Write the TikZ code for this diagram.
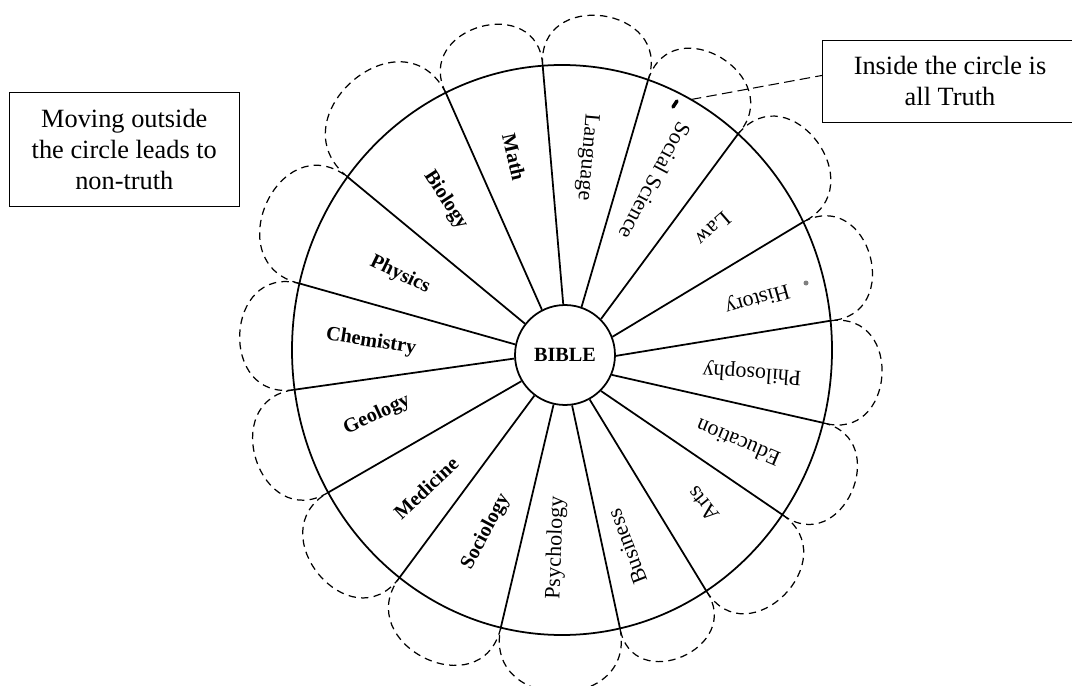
\documentclass[tikz,border=0pt]{standalone}
\usepackage{fontspec}
\setmainfont{Liberation Serif}
\usetikzlibrary{calc}
\begin{document}
\begin{tikzpicture}[x=0.02cm,y=-0.02cm,
  wheel/.style={line width=1pt},
  petal/.style={dash pattern=on 4.2pt off 3pt, line width=0.7pt},
  lab/.style={font=\fontsize{12.5}{14}\selectfont},
  blab/.style={font=\fontsize{11.5}{13}\selectfont\bfseries},
  note/.style={draw, line width=0.6pt, font=\fontsize{15}{17.6}\selectfont, align=center, inner sep=0pt}]
\useasboundingbox (0,0) rectangle (1072,686);
% outer rim
\draw[wheel] (562,350) ellipse [x radius=270, y radius=285];
% centre
\node[draw, wheel, circle, minimum size=2cm, inner sep=0pt, fill=white,
  font=\fontsize{11.5}{13}\selectfont\bfseries] (bible) at (565,355) {BIBLE};
% dividers
\foreach \a/\b [count=\k] in {115.5/117, 94.1/92.4, 71.4/71.6, 49.3/45, 26.7/21.6,
   5.9/-1.1, -14.8/-23.6, -35.3/-45, -57.7/-61.5, -77.6/-82, -103.1/-103,
   -127/-127, -150/-149.6, -172/-176.5, 166.5/168.6, 142.6/142.6}{
  \coordinate (o\k) at ({562+270*cos(\a)},{350-285*sin(\a)});
  \draw[wheel] (bible.\b) -- (o\k);
}
% petals
\foreach \a/\b in {115.5/94.1, 94.1/71.4, 71.4/49.3, 49.3/26.7, 26.7/5.9,
   5.9/-14.8, -14.8/-35.3, -35.3/-57.7, -57.7/-77.6, -77.6/-103.1,
   -103.1/-127, -127/-150, -150/-172, -172/-193.5, -193.5/-217.4, -217.4/-244.5}{
  \pgfmathsetmacro{\xa}{562+270*cos(\a)}
  \pgfmathsetmacro{\ya}{350-285*sin(\a)}
  \pgfmathsetmacro{\xb}{562+270*cos(\b)}
  \pgfmathsetmacro{\yb}{350-285*sin(\b)}
  \pgfmathsetmacro{\m}{(\a+\b)/2}
  \pgfmathsetmacro{\h}{veclen(\xa-\xb,\ya-\yb)}
  \pgfmathsetmacro{\nx}{cos(\m)}
  \pgfmathsetmacro{\ny}{-sin(\m)}
  \pgfmathsetmacro{\tx}{(\xb-\xa)/\h}
  \pgfmathsetmacro{\ty}{(\yb-\ya)/\h}
  \draw[petal] (\xa,\ya) .. controls ({\xa+0.72*\h*\nx-0.15*\h*\tx},{\ya+0.72*\h*\ny-0.15*\h*\ty})
     and ({\xb+0.72*\h*\nx+0.15*\h*\tx},{\yb+0.72*\h*\ny+0.15*\h*\ty}) .. (\xb,\yb);
}
% labels
\node[blab, rotate=-57] (biology) at (445.7,200.3) {Biology};
\node[blab, rotate=-77] (math) at (514,157) {Math};
\node[lab, rotate=-95] (language) at (587,157) {Language};
\node[lab, rotate=-118] (socsci) at (655,181) {Social Science};
\node[lab, rotate=-139] (law) at (713,229) {Law};
\node[lab, rotate=-164] (history) at (757,298) {History};
\node[lab, rotate=176] (philosophy) at (752,373) {Philosophy};
\node[lab, rotate=157] (education) at (738,443) {Education};
\node[lab, rotate=129] (arts) at (703,504) {Arts};
\node[lab, rotate=111] (business) at (627,547) {Business};
\node[lab, rotate=88] (psychology) at (556,548) {Psychology};
\node[blab, rotate=62] (sociology) at (486,532) {Sociology};
\node[blab, rotate=43] (medicine) at (426,488) {Medicine};
\node[blab, rotate=25] (geology) at (377,415) {Geology};
\node[blab, rotate=-9] (chemistry) at (371,342) {Chemistry};
\node[blab, rotate=-26] (physics) at (400,275) {Physics};
% scan marks
\draw[line width=2pt, line cap=round] (673,107) -- (677,101);
\fill[gray] (806,283) circle [radius=2.5];
% notes
\node[note, minimum width=4.6cm, minimum height=2.29cm] (outside) at (124.3,149.5)
  {Moving outside\\the circle leads to\\non-truth};
\node[note, minimum width=5.1cm, minimum height=1.65cm] (inside) at (950,81.3)
  {Inside the circle is\\all Truth};
\coordinate (rimpt) at ({562+270*cos(61.5)},{350-285*sin(61.5)});
\draw[dash pattern=on 6pt off 3pt, line width=0.6pt] (rimpt) -- ($(inside.north west)!0.43!(inside.south west)$);
\end{tikzpicture}
\end{document}
